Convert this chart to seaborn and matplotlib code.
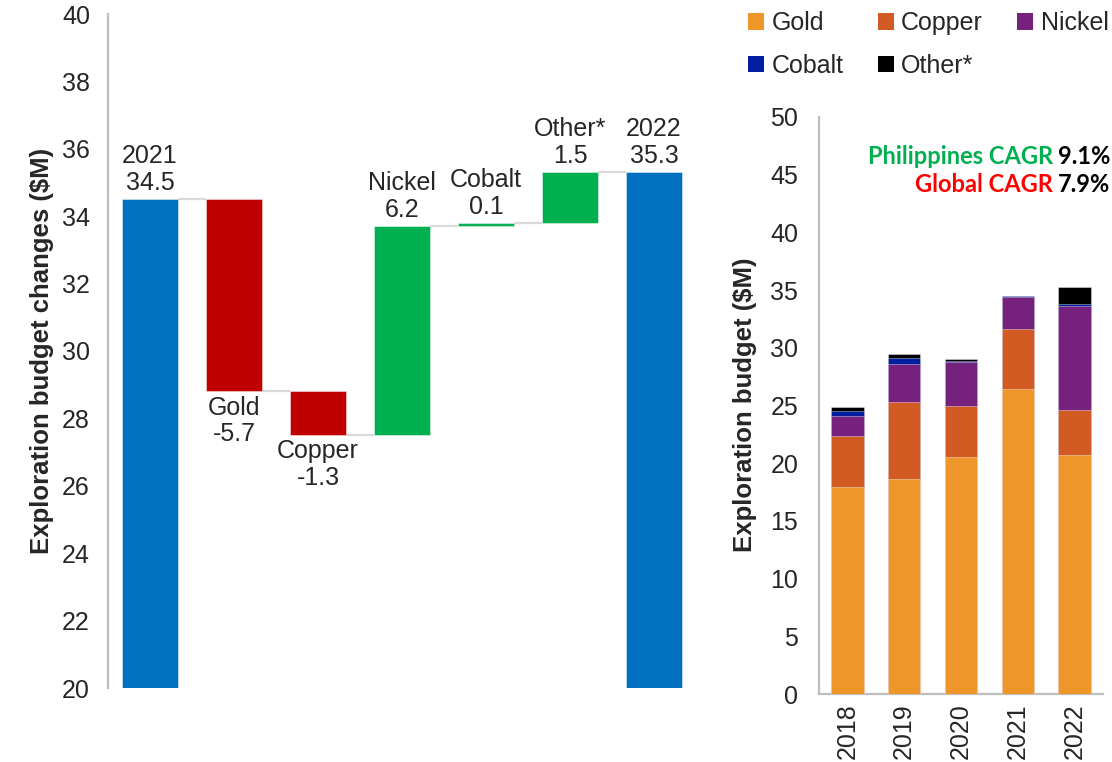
import matplotlib
matplotlib.use("Agg")
import matplotlib.pyplot as plt
from matplotlib.patches import Patch
import numpy as np
import pandas as pd
import seaborn as sns

# Waterfall: 2021 budget, changes by commodity, 2022 budget ($M)
steps = ["2021", "Gold", "Copper", "Nickel", "Cobalt", "Other*", "2022"]
start_total = 34.5
step_changes = [-5.7, -1.3, 6.2, 0.1, 1.5]
end_total = 35.3

# Stacked exploration budget by commodity ($M)
years = ["2018", "2019", "2020", "2021", "2022"]
gold = [17.9, 18.6, 20.5, 26.4, 20.7]
copper = [4.5, 6.7, 4.5, 5.2, 3.9]
nickel = [1.7, 3.3, 3.8, 2.8, 9.0]
cobalt = [0.45, 0.5, 0.05, 0.1, 0.2]
other = [0.35, 0.4, 0.2, 0.0, 1.5]

ph_cagr = "9.1%"
global_cagr = "7.9%"

sns.set_theme(style="white")
plt.rcParams["font.family"] = ["Liberation Sans", "DejaVu Sans"]

W, H = 1112, 762
fig = plt.figure(figsize=(W / 100, H / 100), dpi=100)

BLUE, RED, GREEN = "#0070C0", "#C00000", "#00B050"
SPINE = "#BFBFBF"
FS = 18

# ---------------- waterfall ----------------
ax1 = fig.add_axes([108 / W, (H - 688) / H, 588 / W, 674 / H])

bottoms, heights, colors, levels = [], [], [], []
level = start_total
bottoms.append(0.0); heights.append(start_total); colors.append(BLUE)
levels.append(level)
for d in step_changes:
    new = level + d
    bottoms.append(min(level, new)); heights.append(abs(d))
    colors.append(GREEN if d >= 0 else RED)
    level = new
    levels.append(level)
bottoms.append(0.0); heights.append(end_total); colors.append(BLUE)
levels.append(end_total)

xpos = np.arange(len(steps))
bw = 0.67
ax1.bar(xpos, heights, bottom=bottoms, width=bw, color=colors,
        edgecolor=(1, 1, 1, 0.5), linewidth=0.6, zorder=3)

# connector lines between consecutive bars
for i in range(len(steps) - 1):
    ax1.plot([xpos[i] + bw / 2, xpos[i + 1] - bw / 2], [levels[i], levels[i]],
             color="#D9D9D9", lw=1.6, zorder=2, solid_capstyle="butt")

values = [start_total] + step_changes + [end_total]
for i, (name, v) in enumerate(zip(steps, values)):
    top = bottoms[i] + heights[i]
    txt = f"{name}\n{v:.1f}"
    if v >= 0:
        ax1.annotate(txt, (xpos[i], top), xytext=(0, 3), textcoords="offset points",
                     ha="center", va="bottom", fontsize=FS, linespacing=1.15)
    else:
        ax1.annotate(txt, (xpos[i], bottoms[i]), xytext=(0, -3), textcoords="offset points",
                     ha="center", va="top", fontsize=FS, linespacing=1.15)

ax1.set_xlim(-0.5, 6.5)
ax1.set_ylim(20, 40)
ax1.set_yticks(np.arange(20, 41, 2))
ax1.set_xticks([])
ax1.tick_params(axis="y", length=0, pad=13, labelsize=FS)
for s in ["top", "right", "bottom"]:
    ax1.spines[s].set_visible(False)
ax1.spines["left"].set_color(SPINE)
ax1.spines["left"].set_linewidth(1.6)
fig.text(42 / W, 1 - 351 / H, "Exploration budget changes ($M)", rotation=90,
         ha="center", va="center", fontsize=18.5, fontweight="bold")

# ---------------- stacked bars ----------------
ax2 = fig.add_axes([819 / W, (H - 694) / H, 284 / W, 577 / H])
layers = [("Gold", gold, "#EE9629"), ("Copper", copper, "#D15B22"),
          ("Nickel", nickel, "#77217F"), ("Cobalt", cobalt, "#00209F"),
          ("Other*", other, "#000000")]
cum = np.cumsum(np.array([l[1] for l in layers]), axis=0)
df = pd.DataFrame({"year": years})
for (name, _, _), c in zip(layers, cum):
    df[name] = c
# draw cumulative totals from the top layer down so each sits on the one below
for name, _, col in reversed(layers):
    sns.barplot(data=df, x="year", y=name, color=col, width=0.57, saturation=1,
                edgecolor=(1, 1, 1, 0.45), linewidth=0.6, ax=ax2, zorder=3)

ax2.set_xlim(-0.5, 4.5)
ax2.set_ylim(0, 50)
ax2.set_yticks(np.arange(0, 51, 5))
ax2.set_xlabel("")
ax2.set_ylabel("")
ax2.tick_params(axis="y", length=0, pad=15, labelsize=FS)
ax2.tick_params(axis="x", length=0, pad=7, labelsize=FS, rotation=90)
for s in ["top", "right"]:
    ax2.spines[s].set_visible(False)
for s in ["left", "bottom"]:
    ax2.spines[s].set_color(SPINE)
    ax2.spines[s].set_linewidth(1.6)
fig.text(745 / W, 1 - 405 / H, "Exploration budget ($M)", rotation=90,
         ha="center", va="center", fontsize=18.5, fontweight="bold")

# legend: row 1 Gold, Copper, Nickel; row 2 Cobalt, Other*
lookup = {n: c for n, _, c in layers}
order = ["Gold", "Cobalt", "Copper", "Other*", "Nickel"]
handles = [Patch(facecolor=lookup[n], edgecolor="none", label=n) for n in order]
fig.legend(handles=handles, ncol=3, loc="upper left",
           bbox_to_anchor=(748 / W, 1 - 11 / H), frameon=False, fontsize=FS,
           handlelength=0.65, handleheight=0.65, handletextpad=0.3,
           columnspacing=1.35, labelspacing=0.75, borderpad=0, borderaxespad=0)

# CAGR annotations (two colours on one line)
fig.canvas.draw()
rend = fig.canvas.get_renderer()
cagr_font = dict(family=["Lato", "DejaVu Sans"], fontweight="bold", fontsize=17)
for y_px, label, pct, col in [(157, "Philippines CAGR", ph_cagr, "#00B050"),
                              (184, "Global CAGR", global_cagr, "#FF0000")]:
    t = fig.text(1110 / W, 1 - y_px / H, pct, ha="right", va="center", color="black", **cagr_font)
    bb = t.get_window_extent(rend)
    fig.text((bb.x0 - 5) / W, 1 - y_px / H, label, ha="right", va="center", color=col, **cagr_font)

fig.savefig("out.png", dpi=100)
